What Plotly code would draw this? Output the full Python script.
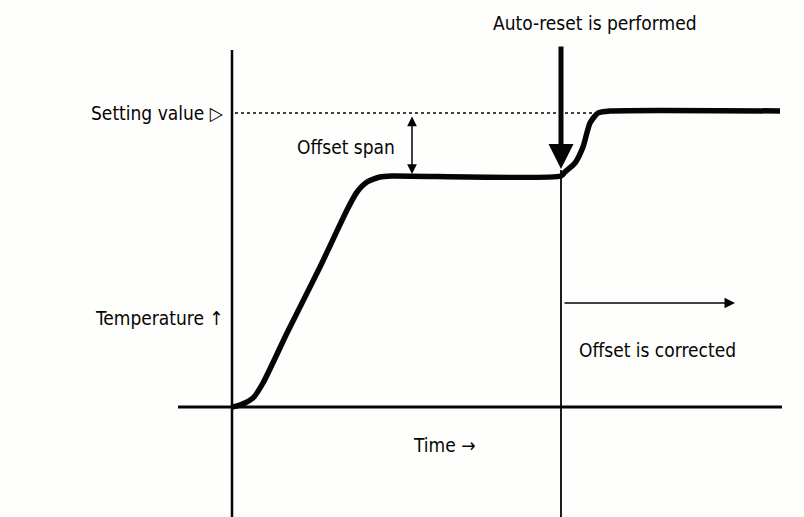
import plotly.graph_objects as go

# Data coordinates: time (x) and temperature (y), arbitrary units
curve_time = [0, 8, 21, 31, 55, 88, 115, 125, 135, 148, 160, 329, 333, 343, 351, 358, 366, 378, 548]
curve_temp = [0, 2, 9, 24, 74, 140, 197, 215, 225, 230, 231, 231, 235, 244, 260, 284, 294, 296, 296]

setting_value = 294
setting_line_time = [3, 368]

baseline_time = [-54, 550]
baseline_temp = [0, 0]

temp_axis_time = [0, 0]
temp_axis_temp = [357, -110]

reset_time = 329
reset_line_temp = [237, -110]
reset_arrow_top = 362

offset_span_time = 180
plateau_temp = 233

corrected_arrow_time = [331, 503]
corrected_arrow_temp = 104

FONT = "Liberation Sans Narrow, Arial Narrow, DejaVu Sans Condensed, sans-serif"
INK = "#050505"

fig = go.Figure()

fig.add_trace(go.Scatter(x=baseline_time, y=baseline_temp, mode="lines",
                         line=dict(color=INK, width=3), hoverinfo="skip"))
fig.add_trace(go.Scatter(x=temp_axis_time, y=temp_axis_temp, mode="lines",
                         line=dict(color=INK, width=2.5), hoverinfo="skip"))
fig.add_trace(go.Scatter(x=[reset_time, reset_time], y=reset_line_temp, mode="lines",
                         line=dict(color=INK, width=1.8), hoverinfo="skip"))
fig.add_trace(go.Scatter(x=setting_line_time, y=[setting_value, setting_value], mode="lines",
                         line=dict(color=INK, width=1.6, dash="dot"), hoverinfo="skip"))
fig.add_trace(go.Scatter(x=curve_time, y=curve_temp, mode="lines",
                         line=dict(color=INK, width=5.5, shape="spline", smoothing=0.6),
                         hoverinfo="skip"))

annotations = [
    dict(x=reset_time, y=238, ax=reset_time, ay=reset_arrow_top, xref="x", yref="y",
         axref="x", ayref="y", showarrow=True, arrowhead=2, arrowsize=1.0,
         arrowwidth=5, arrowcolor=INK, text=""),
    dict(x=offset_span_time, y=plateau_temp, ax=offset_span_time, ay=setting_value - 2,
         xref="x", yref="y", axref="x", ayref="y", showarrow=True, arrowhead=2,
         startarrowhead=2, arrowside="end+start", arrowsize=1.3, startarrowsize=1.3,
         arrowwidth=1.5, arrowcolor=INK, text=""),
    dict(x=corrected_arrow_time[1], y=corrected_arrow_temp, ax=corrected_arrow_time[0],
         ay=corrected_arrow_temp, xref="x", yref="y", axref="x", ayref="y",
         showarrow=True, arrowhead=2, arrowsize=1.4, arrowwidth=1.5, arrowcolor=INK, text=""),
]

labels = [
    ("Setting value ▷", -6, setting_value, "right"),
    ("Offset span", 114, 260, "center"),
    ("Temperature ↑", -6, 89, "right"),
    ("Time →", 212, -38, "center"),
    ("Offset is corrected", 425, 57, "center"),
    ("Auto-reset is performed", 363, 384, "center"),
]
for txt, x, y, anchor in labels:
    annotations.append(dict(x=x, y=y, xref="x", yref="y", text=txt, showarrow=False,
                            xanchor=anchor, yanchor="middle",
                            font=dict(family=FONT, size=19, color=INK)))

fig.update_layout(
    width=804, height=517,
    margin=dict(l=0, r=0, t=0, b=0),
    paper_bgcolor="#fefefc", plot_bgcolor="#fefefc",
    showlegend=False,
    xaxis=dict(range=[-232, 572], visible=False, fixedrange=True),
    yaxis=dict(range=[-110, 407], visible=False, fixedrange=True),
    annotations=annotations,
)

fig.write_html("out.html", config={"displayModeBar": False},
               post_script="document.body.style.margin='0';document.body.style.overflow='hidden';")
